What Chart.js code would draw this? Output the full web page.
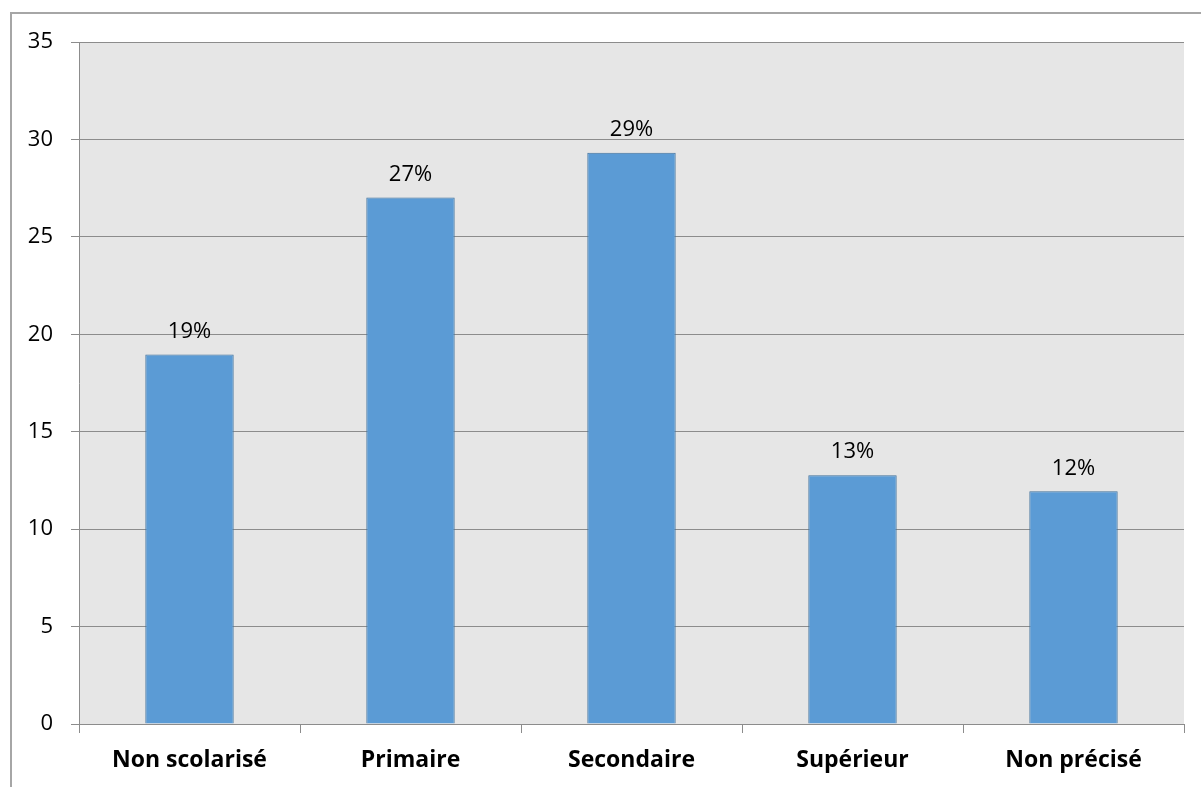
<!DOCTYPE html>
<html>
<head>
<meta charset="utf-8">
<script src="https://cdn.jsdelivr.net/npm/chart.js@4/dist/chart.umd.min.js"></script>
<style>
  html, body { margin: 0; padding: 0; background: #fff; overflow: hidden; }
  #wrap { position: relative; width: 1201px; height: 787px; }
  #cadre { position: absolute; left: 10px; top: 12px; width: 1400px; height: 900px;
           border-left: 2px solid #a6a6a6; border-top: 2px solid #a6a6a6; }
  canvas { position: absolute; left: 0; top: 0; }
</style>
</head>
<body>
<div id="wrap">
  <div id="cadre"></div>
  <canvas id="graphique" width="1201" height="787"></canvas>
</div>
<script>
// Niveau d'instruction
const categories = ['Non scolarisé', 'Primaire', 'Secondaire', 'Supérieur', 'Non précisé'];
const valeurs = [18.96, 27.02, 29.32, 12.77, 11.94];
const graduations = [0, 5, 10, 15, 20, 25, 30, 35];

const police = "'Open Sans', 'Noto Sans', sans-serif";

// Fond gris de la zone de tracé
const fondZone = {
  id: 'fondZone',
  beforeDraw(chart) {
    const { ctx, chartArea: { left, top, width, height } } = chart;
    ctx.save();
    ctx.fillStyle = '#e6e6e6';
    ctx.fillRect(left, top, width, height);
    ctx.restore();
  }
};

// Pourcentage au-dessus de chaque barre
const etiquettes = {
  id: 'etiquettes',
  afterDatasetsDraw(chart) {
    const { ctx } = chart;
    ctx.save();
    ctx.font = '22px ' + police;
    ctx.fillStyle = '#000';
    ctx.textAlign = 'center';
    ctx.textBaseline = 'bottom';
    chart.getDatasetMeta(0).data.forEach((barre, i) => {
      ctx.fillText(Math.round(valeurs[i]) + '%', barre.x, barre.y - 12);
    });
    ctx.restore();
  }
};

new Chart(document.getElementById('graphique'), {
  type: 'bar',
  data: {
    labels: categories,
    datasets: [{
      data: valeurs,
      backgroundColor: '#5b9bd5',
      borderColor: '#41719c',
      borderWidth: 1,
      barPercentage: 0.4,
      categoryPercentage: 1
    }]
  },
  options: {
    responsive: false,
    animation: false,
    layout: { padding: { top: 42, right: 17, left: 0, bottom: 0 } },
    plugins: { legend: { display: false }, tooltip: { enabled: false } },
    scales: {
      x: {
        offset: true,
        grid: { offset: true, drawOnChartArea: false, drawTicks: true, tickLength: 9, color: '#8c8c8c' },
        border: { color: '#8c8c8c' },
        ticks: { color: '#000', font: { family: police, size: 23, weight: 'bold' }, padding: 14, maxRotation: 0 },
        afterFit(axe) { axe.height = 63; }
      },
      y: {
        min: 0,
        max: 35,
        afterBuildTicks(axe) { axe.ticks = graduations.map(v => ({ value: v })); },
        grid: { color: '#8c8c8c', tickLength: 8 },
        border: { color: '#8c8c8c' },
        ticks: { color: '#000', font: { family: police, size: 22 }, padding: 18 },
        afterFit(axe) { axe.width = 79; }
      }
    }
  },
  plugins: [fondZone, etiquettes]
});
</script>
</body>
</html>
